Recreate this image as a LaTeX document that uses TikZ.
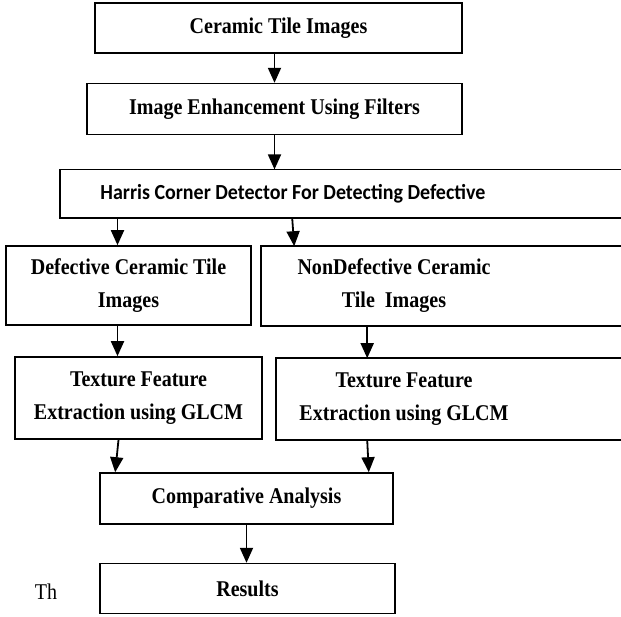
\documentclass[tikz,border=0pt]{standalone}
\usepackage{fontspec}
\setmainfont{Liberation Serif}[FakeStretch=0.89]
\newfontfamily\harrisfont{Carlito}[FakeStretch=0.93]
\usepackage{tikz}
\usetikzlibrary{arrows.meta,positioning}

\begin{document}
\begin{tikzpicture}[x=1pt, y=-1pt, node distance=30pt,
    box/.style={draw, line width=1.6pt, align=center, inner sep=0pt,
                font=\fontsize{22.5}{33}\selectfont\bfseries},
    open box/.style={box, draw=none},
    frame/.style={line width=1.6pt},
    arr/.style={line width=1.8pt, -{Triangle[length=15pt,width=13pt]}}]

\useasboundingbox (0,0) rectangle (621,616);

\node[box, minimum width=367pt, minimum height=50pt] (cti) at (278.5,28)        {Ceramic Tile Images};
\node[box, minimum width=375pt, minimum height=51pt] (enh) [below=29pt of cti, xshift=-4pt] {Image Enhancement Using Filters};
\node[open box, minimum width=464pt, minimum height=47pt,
      font=\fontsize{21.5}{23}\selectfont\harrisfont\bfseries] (harris) [below=34pt of enh, xshift=18.5pt] {Harris Corner Detector For Detecting Defective};

\node[box, minimum width=245pt, minimum height=79pt]       (def)    at (128.5,285.5) {Defective Ceramic Tile\\ Images};
\node[open box, minimum width=264pt, minimum height=78pt]  (nondef) at (394,286)     {NonDefective Ceramic\\ Tile~ Images};

\node[box, minimum width=247pt, minimum height=82pt]       (texl)   at (138.5,398)   {Texture Feature\\ Extraction using GLCM};
\node[open box, minimum width=254pt, minimum height=80pt]  (texr)   at (404,399)     {Texture Feature\\ Extraction using GLCM};

\node[box, minimum width=293pt, minimum height=51pt] (comp) at (246.5,498.5)        {Comparative Analysis};
\node[box, minimum width=295pt, minimum height=50pt] (res)  [below=38pt of comp, xshift=1pt] {Results};
\node[font=\fontsize{22.5}{24}\selectfont] (th) at (46,592) {Th};

% boxes running off the right edge
\draw[frame] ([xshift=96pt]harris.north east) -| (harris.south west) -- ([xshift=96pt]harris.south east);
\draw[frame] ([xshift=95pt]nondef.north east) -| (nondef.south west) -- ([xshift=95pt]nondef.south east);
\draw[frame] ([xshift=90pt]texr.north east)   -| (texr.south west)   -- ([xshift=90pt]texr.south east);

\path[arr]
      (enh.north |- cti.south) edge (enh.north)
      (enh.south) edge (enh.south |- harris.north)
      ([xshift=-11pt]def.north |- harris.south) edge ([xshift=-11pt]def.north)
      ([xshift=31pt]nondef.north west |- harris.south) edge ([xshift=33pt]nondef.north west)
      ([xshift=-11pt]def.south) edge ([xshift=-11pt]def.south |- texl.north)
      ([xshift=106pt]nondef.south west) edge ([xshift=106pt]nondef.south west |- texr.north)
      ([xshift=-20pt]texl.south) edge ([xshift=16pt]comp.north west)
      ([xshift=91pt]texr.south west) edge ([xshift=-25pt]comp.north east)
      (comp.south) edge (comp.south |- res.north);
\end{tikzpicture}
\end{document}
